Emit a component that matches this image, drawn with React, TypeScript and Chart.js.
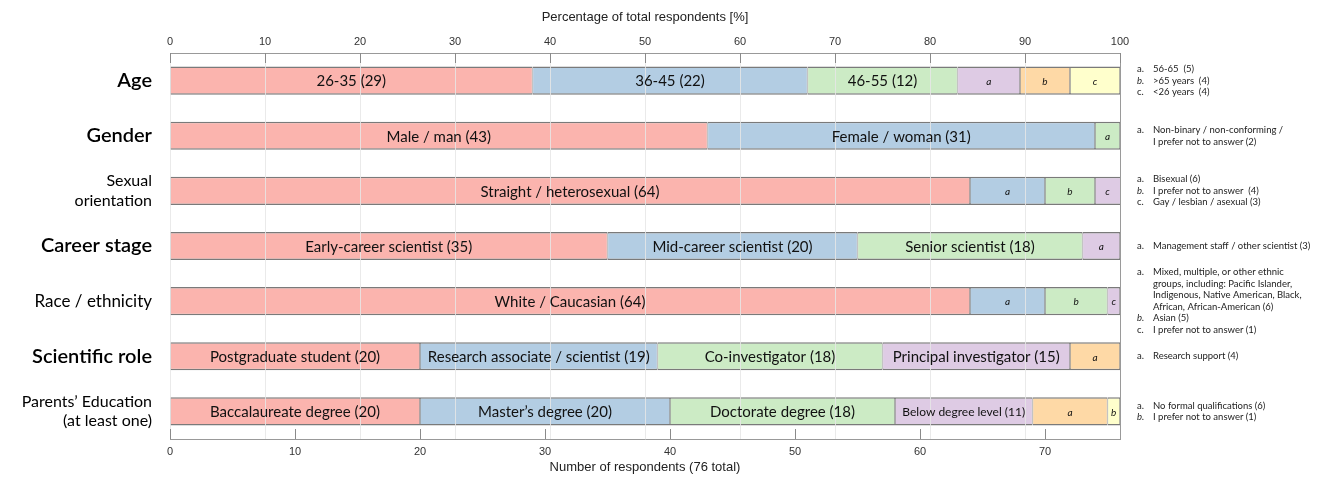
import { useEffect, useRef } from 'react';
import { Chart, registerables } from 'chart.js';

Chart.register(...registerables);

// ---------- DATA ----------
const categories: (string | string[])[] = [
  'Age',
  'Gender',
  ['Sexual', 'orientation'],
  'Career stage',
  'Race / ethnicity',
  'Scientific role',
  ['Parents\u2019 Education', '(at least one)'],
];

// Values of the 1st..6th segment of each bar (number of respondents)
const seg1 = [29, 43, 64, 35, 64, 20, 20];
const seg2 = [22, 31, 6, 20, 6, 19, 20];
const seg3 = [12, 2, 4, 18, 5, 18, 18];
const seg4 = [5, 0, 3, 3, 1, 15, 11];
const seg5 = [4, 0, 0, 0, 0, 4, 6];
const seg6 = [4, 0, 0, 0, 0, 0, 1];

const seg1Labels = ['26-35 (29)', 'Male / man (43)', 'Straight / heterosexual (64)', 'Early-career scientist (35)', 'White / Caucasian (64)', 'Postgraduate student (20)', 'Baccalaureate degree (20)'];
const seg2Labels = ['36-45 (22)', 'Female / woman (31)', 'a', 'Mid-career scientist (20)', 'a', 'Research associate / scientist (19)', 'Master\u2019s degree (20)'];
const seg3Labels = ['46-55 (12)', 'a', 'b', 'Senior scientist (18)', 'b', 'Co-investigator (18)', 'Doctorate degree (18)'];
const seg4Labels = ['a', '', 'c', 'a', 'c', 'Principal investigator (15)', 'Below degree level (11)'];
const seg5Labels = ['b', '', '', '', '', 'a', 'a'];
const seg6Labels = ['c', '', '', '', '', '', 'b'];

const totalRespondents = 76;
const percentMax = 100;
const tickStep = 10;

const axisTitleTop = 'Percentage of total respondents [%]';
const axisTitleBottom = 'Number of respondents (76 total)';

// Side notes, one list per row: [letter, text]
const notesAge = [['a.', '56-65  (5)'], ['b.', '>65 years  (4)'], ['c.', '<26 years  (4)']];
const notesGender = [['a.', 'Non-binary / non-conforming /\nI prefer not to answer (2)']];
const notesSexual = [['a.', 'Bisexual (6)'], ['b.', 'I prefer not to answer  (4)'], ['c.', 'Gay / lesbian / asexual (3)']];
const notesCareer = [['a.', 'Management staff / other scientist (3)']];
const notesRace = [['a.', 'Mixed, multiple, or other ethnic\ngroups, including: Pacific Islander,\nIndigenous, Native American, Black,\nAfrican, African-American (6)'], ['b.', 'Asian (5)'], ['c.', 'I prefer not to answer (1)']];
const notesRole = [['a.', 'Research support (4)']];
const notesParents = [['a.', 'No formal qualifications (6)'], ['b.', 'I prefer not to answer (1)']];

// ---------- STYLE ----------
const palette = ['#FBB4AE', '#B3CDE3', '#CCEBC5', '#DECBE4', '#FED9A6', '#FFFFCC'];
const rowLabelFonts = [
  { size: 20, weight: '600' },
  { size: 20, weight: '600' },
  { size: 16, weight: '400' },
  { size: 20, weight: '600' },
  { size: 17, weight: '400' },
  { size: 20, weight: '600' },
  { size: 16, weight: '400' },
];
const LABEL_FONT = 'Lato, "Noto Sans", sans-serif';
const AXIS_FONT = '"Liberation Sans", Arial, sans-serif';

const segValues = [seg1, seg2, seg3, seg4, seg5, seg6];
const segLabels = [seg1Labels, seg2Labels, seg3Labels, seg4Labels, seg5Labels, seg6Labels];
const allNotes = [notesAge, notesGender, notesSexual, notesCareer, notesRace, notesRole, notesParents];

const segLabelPlugin = {
  id: 'segLabels',
  afterDraw(chart: any) {
    const ctx = chart.ctx;
    const area = chart.chartArea;
    chart.data.datasets.forEach((ds: any, di: number) => {
      const meta = chart.getDatasetMeta(di);
      meta.data.forEach((el: any, i: number) => {
        const txt = segLabels[di][i];
        if (!txt || !ds.data[i]) return;
        const { x, base, y } = el.getProps(['x', 'base', 'y'], true);
        const left = Math.max(Math.min(x, base), area.left);
        const right = Math.min(Math.max(x, base), area.right);
        const w = right - left;
        ctx.save();
        ctx.textAlign = 'center';
        ctx.textBaseline = 'middle';
        ctx.fillStyle = '#111';
        if (txt.length === 1) {
          ctx.font = `italic 10px ${LABEL_FONT}`;
        } else {
          let size = 15;
          ctx.font = `${size}px ${LABEL_FONT}`;
          while (size > 9 && ctx.measureText(txt).width > w - 14) {
            size -= 0.5;
            ctx.font = `${size}px ${LABEL_FONT}`;
          }
        }
        ctx.fillText(txt, (left + right) / 2, y + 1);
        ctx.restore();
      });
    });
  },
};

const frameTicksPlugin = {
  id: 'frameTicks',
  afterDraw(chart: any) {
    const ctx = chart.ctx;
    const area = chart.chartArea;
    const xTop = chart.scales.x2;
    const xBot = chart.scales.x;
    const yScale = chart.scales.y;
    ctx.save();
    ctx.strokeStyle = '#8a8a8a';
    ctx.lineWidth = 1;
    xTop.ticks.forEach((t: any) => {
      const px = Math.round(xTop.getPixelForValue(t.value)) + 0.5;
      ctx.beginPath();
      ctx.moveTo(px, area.top);
      ctx.lineTo(px, area.top + 10);
      ctx.stroke();
    });
    xBot.ticks.forEach((t: any) => {
      const px = Math.round(xBot.getPixelForValue(t.value)) + 0.5;
      ctx.beginPath();
      ctx.moveTo(px, area.bottom);
      ctx.lineTo(px, area.bottom - 10);
      ctx.stroke();
    });
    // side notes
    const lh = 11.5;
    ctx.fillStyle = '#222';
    ctx.textBaseline = 'middle';
    ctx.textAlign = 'left';
    allNotes.forEach((items, r) => {
      const lines: { letter: string; text: string }[] = [];
      items.forEach(([letter, text]) => {
        text.split('\n').forEach((ln, k) => lines.push({ letter: k === 0 ? letter : '', text: ln }));
      });
      const cy = yScale.getPixelForValue(r);
      const y0 = cy - ((lines.length - 1) * lh) / 2;
      lines.forEach((ln, k) => {
        const yy = y0 + k * lh;
        if (ln.letter) {
          ctx.font = `${ln.letter === 'b.' ? 'italic ' : ''}9.5px ${LABEL_FONT}`;
          ctx.fillText(ln.letter, area.right + 17, yy);
        }
        ctx.font = `9.5px ${LABEL_FONT}`;
        ctx.fillText(ln.text, area.right + 33, yy);
      });
    });
    ctx.restore();
  },
};

export default function App() {
  const ref = useRef<HTMLCanvasElement | null>(null);
  useEffect(() => {
    if (!ref.current) return;
    const chart = new Chart(ref.current, {
      type: 'bar',
      data: {
        labels: categories as any,
        datasets: segValues.map((vals, i) => ({
          label: `segment ${i + 1}`,
          data: vals,
          backgroundColor: palette[i],
          borderColor: '#7a7a7a',
          borderWidth: { top: 1.5, bottom: 1.5, left: 0.75, right: 0.75 },
          borderSkipped: false,
          barPercentage: 1,
          categoryPercentage: 0.51,
          clip: 0,
        })) as any,
      },
      options: {
        indexAxis: 'y',
        responsive: false,
        animation: false,
        devicePixelRatio: 1,
        layout: { padding: { left: 0, right: 197, top: 0, bottom: 0 } },
        plugins: { legend: { display: false }, tooltip: { enabled: false } },
        scales: {
          x: {
            type: 'linear',
            position: 'bottom',
            stacked: true,
            min: 0,
            max: totalRespondents,
            grid: { display: false, drawTicks: false },
            border: { display: true, color: '#999', width: 1 },
            ticks: {
              stepSize: tickStep,
              includeBounds: false,
              padding: 6,
              color: '#333',
              font: { family: AXIS_FONT, size: 11 },
            },
            title: {
              display: true,
              text: axisTitleBottom,
              color: '#222',
              font: { family: AXIS_FONT, size: 13 },
              padding: { top: 0, bottom: 2 },
            },
            afterFit: (s: any) => { s.height = 38; },
          } as any,
          x2: {
            type: 'linear',
            position: 'top',
            min: 0,
            max: percentMax,
            grid: {
              display: true,
              drawTicks: false,
              z: 1,
              color: (c: any) => (c.tick && c.tick.value === percentMax ? '#9a9a9a' : 'rgba(230,230,230,0.85)'),
            },
            border: { display: true, color: '#999', width: 1, z: 2 },
            ticks: {
              stepSize: tickStep,
              padding: 4,
              color: '#333',
              font: { family: AXIS_FONT, size: 11 },
            },
            title: {
              display: true,
              text: axisTitleTop,
              color: '#222',
              font: { family: AXIS_FONT, size: 13 },
              padding: { top: 10, bottom: 0 },
            },
            afterFit: (s: any) => { s.height = 53; },
          } as any,
          y: {
            stacked: true,
            grid: { display: false, drawTicks: false },
            border: { display: false },
            ticks: {
              autoSkip: false,
              padding: 18,
              color: '#000',
              font: (c: any) => ({
                family: LABEL_FONT,
                size: rowLabelFonts[c.index]?.size ?? 16,
                weight: rowLabelFonts[c.index]?.weight ?? '400',
                lineHeight: 1.2,
              }),
            },
            afterFit: (s: any) => { s.width = 170; },
          } as any,
        },
      },
      plugins: [segLabelPlugin, frameTicksPlugin],
    });
    return () => chart.destroy();
  }, []);
  return (
    <div style={{ position: 'fixed', left: 0, top: 0, width: 1317, height: 477, background: '#fff' }}>
      <canvas ref={ref} width={1317} height={477} style={{ display: 'block' }} />
    </div>
  );
}
